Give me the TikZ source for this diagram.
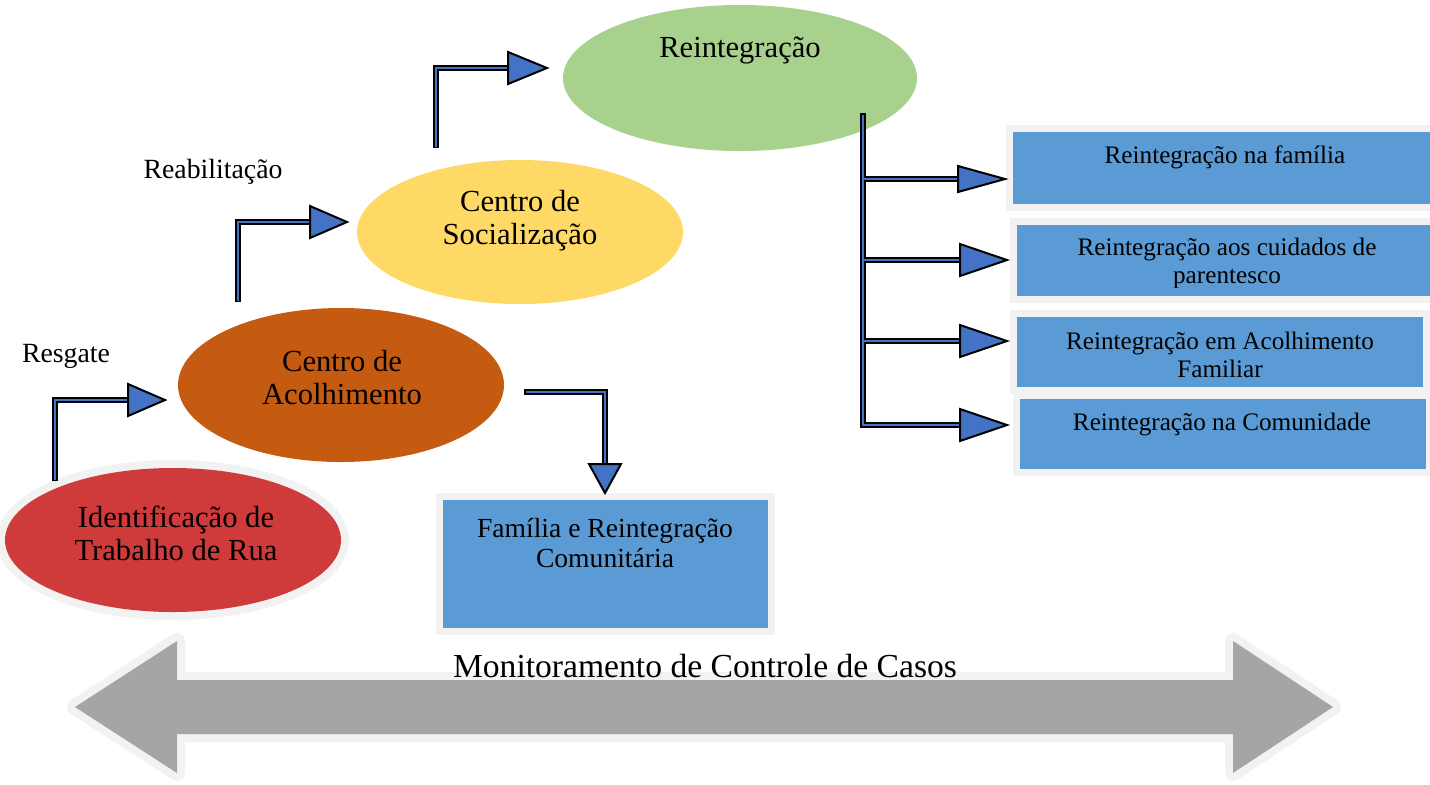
\documentclass[tikz,border=0pt]{standalone}
\usepackage{fontspec}
\setmainfont{Liberation Serif}
\usetikzlibrary{shapes.geometric}
\definecolor{cred}{RGB}{207,58,58}
\definecolor{corange}{RGB}{197,90,17}
\definecolor{cyellow}{RGB}{255,217,102}
\definecolor{cgreen}{RGB}{169,209,142}
\definecolor{cbox}{RGB}{91,155,213}
\definecolor{carrow}{RGB}{68,114,196}
\definecolor{cgray}{RGB}{165,165,165}
\definecolor{chalo}{RGB}{242,242,242}
\begin{document}
\begin{tikzpicture}[x=0.5pt,y=-0.5pt,
  oval/.style={ellipse, inner sep=0pt, draw=none},
  halo/.style={preaction={draw=chalo, line width=#1}},
  bluebox/.style={rectangle, inner sep=0pt, fill=cbox, draw=none, anchor=north west},
  ovaltext/.style={font=\fontsize{15.3}{16.5}\selectfont, align=center, inner sep=0pt},
  boxtext/.style={font=\fontsize{12.6}{14}\selectfont, align=center, inner sep=0pt},
  lbltext/.style={font=\fontsize{13.9}{16}\selectfont, inner sep=0pt},
  shaftout/.style={draw=black, line width=3pt},
  shaftin/.style={draw=carrow, line width=1.4pt, shorten <=0.75pt},
  arrowhead/.style={fill=carrow, draw=black, line width=1pt, line join=miter}
]
\useasboundingbox (0,0) rectangle (1430,784);

% big double arrow
\draw[fill=cgray, draw=none, preaction={draw=chalo, line width=8pt, line join=round}]
  (75,707) -- (177,641) -- (177,680) -- (1233,680) -- (1233,641) -- (1333,707)
  -- (1233,773) -- (1233,734) -- (177,734) -- (177,773) -- cycle;
\node[font=\fontsize{16.8}{18}\selectfont, inner sep=0pt] (mon) at (705,666) {Monitoramento de Controle de Casos};

% ellipses
\node[oval, fill=cred, halo=8pt, minimum width=168pt, minimum height=72pt] (ident) at (173,540) {};
\node[ovaltext] (identt) at (176,533) {Identificação de\\Trabalho de Rua};
\node[oval, fill=corange, minimum width=163pt, minimum height=77pt] (acol) at (341,385) {};
\node[ovaltext] (acolt) at (342,378) {Centro de\\Acolhimento};
\node[oval, fill=cyellow, minimum width=163pt, minimum height=72pt] (soc) at (520,232) {};
\node[ovaltext] (soct) at (520,221) {Centro de\\Socialização};
\node[oval, fill=cgreen, minimum width=177pt, minimum height=73pt] (reint) at (740,78) {};
\node[ovaltext] (reintt) at (740,50) {Reintegração};

% labels
\node[lbltext] (resg) at (66,356) {Resgate};
\node[lbltext] (reab) at (213,172) {Reabilitação};

% box familia
\node[bluebox, halo=7pt, minimum width=162.5pt, minimum height=64pt] (fam) at (443,500) {};
\node[font=\fontsize{13.8}{15}\selectfont, align=center, inner sep=0pt] (famt) at (605,543) {Família e Reintegração\\Comunitária};

% right boxes
\begin{scope}
\clip (0,0) rectangle (1430,784);
\node[bluebox, halo=7pt, minimum width=220pt, minimum height=36pt] (b1) at (1013,132) {};
\node[bluebox, halo=7pt, minimum width=220pt, minimum height=35.5pt] (b2) at (1017,225) {};
\node[bluebox, halo=7pt, minimum width=203pt, minimum height=35pt] (b3) at (1017,317) {};
\node[bluebox, halo=7pt, minimum width=203pt, minimum height=35pt] (b4) at (1020,399) {};
\end{scope}
\node[boxtext] (b1t) at (1225,157) {Reintegração na família};
\begin{scope}
\clip (1017,225) rectangle (1430,287);
\node[boxtext] (b2t) at (1227,263) {Reintegração aos cuidados de\\parentesco};
\end{scope}
\node[boxtext] (b3t) at (1220,355) {Reintegração em Acolhimento\\Familiar};
\node[boxtext] (b4t) at (1222,424) {Reintegração na Comunidade};

% bent arrows
\coordinate (a1s) at (55,481); \coordinate (a1e) at (128,400);
\draw[shaftout] (a1s) |- (a1e); \draw[shaftin] (a1s) |- (a1e);
\draw[arrowhead, shift={(a1e)}] (0,-16) -- (37,0) -- (0,16) -- cycle;

\coordinate (a2s) at (238,302); \coordinate (a2e) at (310,222);
\draw[shaftout] (a2s) |- (a2e); \draw[shaftin] (a2s) |- (a2e);
\draw[arrowhead, shift={(a2e)}] (0,-16) -- (37,0) -- (0,16) -- cycle;

\coordinate (a3s) at (436,148); \coordinate (a3e) at (508,68);
\draw[shaftout] (a3s) |- (a3e); \draw[shaftin] (a3s) |- (a3e);
\draw[arrowhead, shift={(a3e)}] (0,-16) -- (39,0) -- (0,16) -- cycle;

\coordinate (a4s) at (524,392); \coordinate (a4e) at (605,464);
\draw[shaftout] (a4s) -| (a4e); \draw[shaftin] (a4s) -| (a4e);
\draw[arrowhead, shift={(a4e)}] (-16,0) -- (0,29) -- (16,0) -- cycle;

% tree
\coordinate (ttop) at (863,113);
\coordinate (t1) at (863,179); \coordinate (t2) at (863,260);
\coordinate (t3) at (863,341); \coordinate (t4) at (863,425);
\coordinate (h1) at (958,179); \coordinate (h2) at (960,260);
\coordinate (h3) at (960,341); \coordinate (h4) at (960,425);
\draw[shaftout] (ttop) -- (t4) -- (h4);
\draw[shaftout] (t1) -- (h1); \draw[shaftout] (t2) -- (h2); \draw[shaftout] (t3) -- (h3);
\draw[shaftin] (ttop) -- (t4) -- (h4);
\draw[shaftin, shorten <=0pt] (t1) -- (h1); \draw[shaftin, shorten <=0pt] (t2) -- (h2); \draw[shaftin, shorten <=0pt] (t3) -- (h3);
\draw[arrowhead, shift={(h1)}] (0,-13) -- (47,0) -- (0,13) -- cycle;
\draw[arrowhead, shift={(h2)}] (0,-16) -- (47,0) -- (0,16) -- cycle;
\draw[arrowhead, shift={(h3)}] (0,-16) -- (47,0) -- (0,16) -- cycle;
\draw[arrowhead, shift={(h4)}] (0,-16) -- (47,0) -- (0,16) -- cycle;
\end{tikzpicture}
\end{document}
